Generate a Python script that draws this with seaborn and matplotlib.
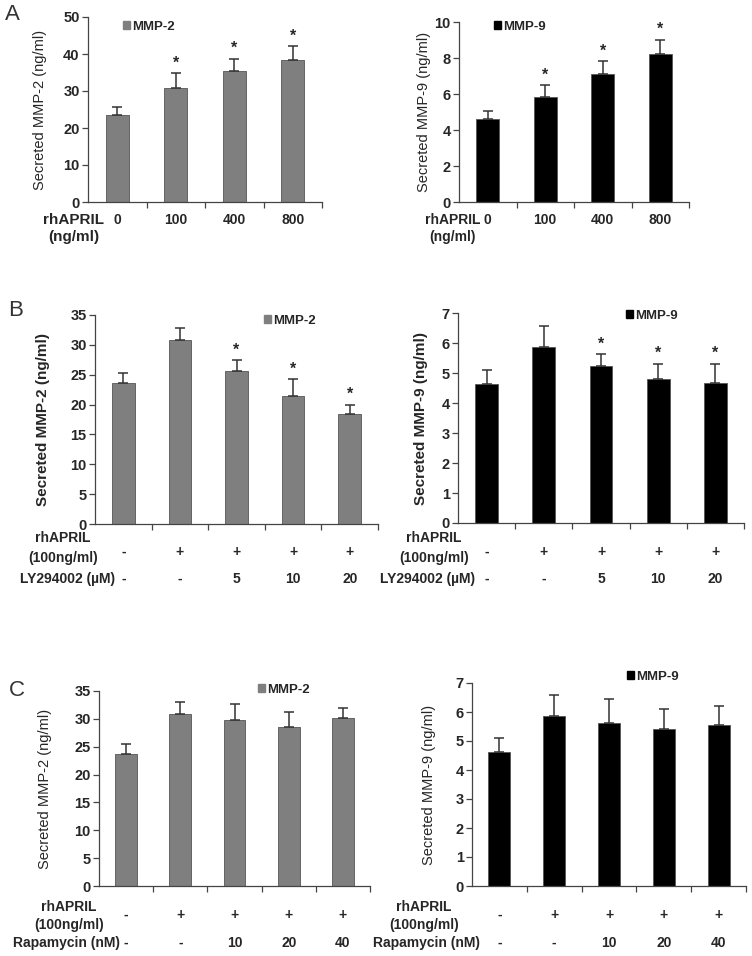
import matplotlib
matplotlib.use("Agg")
import matplotlib.pyplot as plt
import matplotlib.patches as mpatches
import matplotlib.transforms as mtransforms
import pandas as pd
import seaborn as sns

# ---- data ----
a_doses = ["0", "100", "400", "800"]
a_mmp2 = [23.6, 30.8, 35.3, 38.4]
a_mmp2_err = [2.2, 4.0, 3.4, 3.7]
a_mmp9 = [4.62, 5.83, 7.09, 8.24]
a_mmp9_err = [0.44, 0.65, 0.74, 0.76]
a_sig = [False, True, True, True]

b_april = ["-", "+", "+", "+", "+"]
b_ly = ["-", "-", "5", "10", "20"]
b_mmp2 = [23.6, 30.8, 25.7, 21.5, 18.4]
b_mmp2_err = [1.7, 2.1, 1.7, 2.7, 1.6]
b_mmp9 = [4.63, 5.86, 5.22, 4.81, 4.66]
b_mmp9_err = [0.48, 0.71, 0.41, 0.50, 0.65]
b_sig = [False, False, True, True, True]

c_april = ["-", "+", "+", "+", "+"]
c_rapa = ["-", "-", "10", "20", "40"]
c_mmp2 = [23.7, 30.8, 29.8, 28.6, 30.2]
c_mmp2_err = [1.7, 2.3, 2.8, 2.7, 1.8]
c_mmp9 = [4.63, 5.86, 5.61, 5.41, 5.56]
c_mmp9_err = [0.48, 0.74, 0.83, 0.69, 0.64]
c_sig = [False, False, False, False, False]

GRAY = "#7f7f7f"
BLACK = "#000000"

sns.set_style("white")
plt.rcParams["font.family"] = ["Liberation Sans", "DejaVu Sans"]

W, H = 752, 956
fig = plt.figure(figsize=(W / 100, H / 100), dpi=100)


def fx(x):
    return x / W


def fy(y):
    return 1 - y / H


def panel(box, values, errs, sig, color, name, ymax, ystep, ylab_x, ylab_bold, legend_xy):
    left, top, right, bottom = box
    ax = fig.add_axes([fx(left), fy(bottom), fx(right - left), (bottom - top) / H])
    cats = [str(i) for i in range(len(values))]
    df = pd.DataFrame({"cond": cats, "val": values})
    sns.barplot(data=df, x="cond", y="val", color=color, width=0.4, ax=ax,
                saturation=1, edgecolor="#555555", linewidth=0.6)
    ax.errorbar(range(len(values)), values, yerr=[[0] * len(values), errs],
                fmt="none", ecolor="#333333", elinewidth=1.1, capsize=3.5, capthick=1.1)
    for i, (v, e, s) in enumerate(zip(values, errs, sig)):
        if s:
            ax.annotate("*", (i, v + e), xytext=(0, 2), textcoords="offset points",
                        ha="center", va="bottom", fontsize=11.5, fontweight="bold")
    n = len(values)
    ax.set_xlim(-0.5, n - 0.5)
    ax.set_ylim(0, ymax)
    nt = int(round(ymax / ystep)) + 1
    ax.set_yticks([ystep * k for k in range(nt)])
    ax.set_yticklabels([f"{ystep * k:g}" for k in range(nt)], fontsize=10.5, fontweight="bold")
    ax.set_xticks([i + 0.5 for i in range(n)])
    ax.set_xticklabels([])
    ax.tick_params(axis="both", direction="out", length=4, width=0.9, color="#444444",
                   bottom=True, left=True, pad=2)
    for sp in ["top", "right"]:
        ax.spines[sp].set_visible(False)
    for sp in ["left", "bottom"]:
        ax.spines[sp].set_color("#444444")
        ax.spines[sp].set_linewidth(0.9)
    ax.set_xlabel("")
    ax.set_ylabel(f"Secreted {name} (ng/ml)", fontsize=11 if ylab_bold else 10.5,
                  fontweight="bold" if ylab_bold else "normal")
    ax.yaxis.set_label_coords((ylab_x - left) / (right - left), 0.5)
    handle = mpatches.Patch(color=color, label=name)
    ax.legend(handles=[handle], loc="center left", frameon=False,
              bbox_to_anchor=(fx(legend_xy[0]), fy(legend_xy[1])), bbox_transform=fig.transFigure,
              handlelength=0.55, handleheight=0.55, handletextpad=0.15, borderpad=0, borderaxespad=0,
              prop={"weight": "bold", "size": 9.5})
    return ax


def row(ax, labels, ypix, size=10):
    tr = mtransforms.blended_transform_factory(ax.transData, fig.transFigure)
    for i, lab in enumerate(labels):
        ax.text(i, fy(ypix), lab, transform=tr, ha="center", va="center",
                fontsize=size, fontweight="bold")


# ---- A ----
axA1 = panel((88, 17, 322, 202), a_mmp2, a_mmp2_err, a_sig, GRAY, "MMP-2", 50, 10, 47, False, (123, 27))
axA2 = panel((459, 22, 689, 202), a_mmp9, a_mmp9_err, a_sig, BLACK, "MMP-9", 10, 2, 431, False, (494, 27))
for ax, xc, fs in [(axA1, 74, 11), (axA2, 453, 10)]:
    row(ax, a_doses, 220)
    fig.text(fx(xc), fy(220), "rhAPRIL", ha="center", va="center", fontsize=fs, fontweight="bold")
    fig.text(fx(xc), fy(237), "(ng/ml)", ha="center", va="center", fontsize=fs, fontweight="bold")

# ---- B ----
axB1 = panel((95, 315, 378, 524), b_mmp2, b_mmp2_err, b_sig, GRAY, "MMP-2", 35, 5, 50, True, (264, 321))
axB2 = panel((458, 313, 744, 523), b_mmp9, b_mmp9_err, b_sig, BLACK, "MMP-9", 7, 1, 428, True, (626, 316))
for ax, xc, xr in [(axB1, 63, 115), (axB2, 434, 475)]:
    row(ax, b_april, 552)
    row(ax, b_ly, 579)
    fig.text(fx(xc), fy(538), "rhAPRIL", ha="center", va="center", fontsize=10, fontweight="bold")
    fig.text(fx(xc), fy(558), "(100ng/ml)", ha="center", va="center", fontsize=10, fontweight="bold")
    fig.text(fx(xr), fy(579), "LY294002 (\u00b5M)", ha="right", va="center", fontsize=10, fontweight="bold")

# ---- C ----
axC1 = panel((99, 691, 370, 886), c_mmp2, c_mmp2_err, c_sig, GRAY, "MMP-2", 35, 5, 52, False, (258, 690))
axC2 = panel((472, 683, 746, 886), c_mmp9, c_mmp9_err, c_sig, BLACK, "MMP-9", 7, 1, 436, False, (627, 677))
for ax, xc, xr in [(axC1, 69, 120), (axC2, 424, 480)]:
    row(ax, c_april, 915)
    row(ax, c_rapa, 943)
    fig.text(fx(xc), fy(907), "rhAPRIL", ha="center", va="center", fontsize=10, fontweight="bold")
    fig.text(fx(xc), fy(925), "(100ng/ml)", ha="center", va="center", fontsize=10, fontweight="bold")
    fig.text(fx(xr), fy(943), "Rapamycin (nM)", ha="right", va="center", fontsize=10, fontweight="bold")

# panel letters
for lab, x, y in [("A", 12, 15), ("B", 16, 310), ("C", 17, 690)]:
    fig.text(fx(x), fy(y), lab, ha="center", va="center", fontsize=16, color="#333333")

fig.savefig("out.png", dpi=100)
